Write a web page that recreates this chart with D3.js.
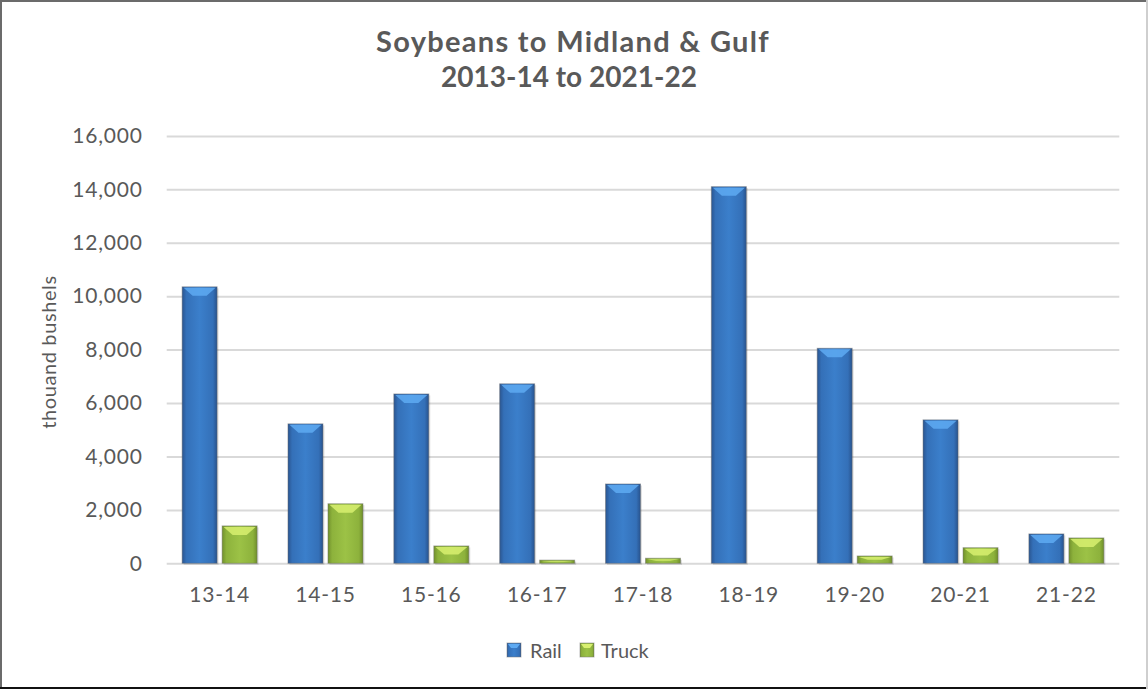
<!DOCTYPE html>
<html>
<head>
<meta charset="utf-8">
<script src="https://cdn.jsdelivr.net/npm/d3@7"></script>
<style>
  html, body { margin: 0; padding: 0; background: #fff; }
  svg { display: block; }
  text { font-family: "Lato", "Noto Sans", sans-serif; fill: #595959; }
</style>
</head>
<body>
<svg id="chart" width="1148" height="689"></svg>
<script>
// ---- data ----
const categories = ["13-14", "14-15", "15-16", "16-17", "17-18", "18-19", "19-20", "20-21", "21-22"];
const seriesNames = ["Rail", "Truck"];
const railValues  = [10350, 5220, 6340, 6720, 2970, 14100, 8050, 5370, 1100];
const truckValues = [1400, 2230, 650, 120, 190, 0, 275, 585, 950];
const yTicks = [0, 2000, 4000, 6000, 8000, 10000, 12000, 14000, 16000];
const titleLines = ["Soybeans to Midland & Gulf", "2013-14 to 2021-22"];
const yAxisTitle = "thouand bushels";

// ---- layout ----
const W = 1148, H = 689;
const plot = { left: 166.7, right: 1119.3, top: 135.9, bottom: 563.3 };
const svg = d3.select("#chart");

// frame
svg.append("rect").attr("x", 0).attr("y", 0).attr("width", W).attr("height", H).attr("fill", "#fff");
svg.append("line").attr("x1", 0).attr("x2", W).attr("y1", 1).attr("y2", 1).attr("stroke", "#6b6b6b").attr("stroke-width", 2);
svg.append("line").attr("x1", 1).attr("x2", 1).attr("y1", 0).attr("y2", H).attr("stroke", "#6b6b6b").attr("stroke-width", 2);
svg.append("line").attr("x1", 0).attr("x2", W).attr("y1", H - 1).attr("y2", H - 1).attr("stroke", "#111").attr("stroke-width", 2);
svg.append("line").attr("x1", W - 1).attr("x2", W - 1).attr("y1", 0).attr("y2", H).attr("stroke", "#cfcfcf").attr("stroke-width", 2);

// gradients
const defs = svg.append("defs");
function hGrad(id, stops) {
  const g = defs.append("linearGradient").attr("id", id).attr("x1", "0%").attr("x2", "100%").attr("y1", "0%").attr("y2", "0%");
  stops.forEach(s => g.append("stop").attr("offset", s[0]).attr("stop-color", s[1]));
}
hGrad("gRail", [["0%", "#2a5590"], ["12%", "#3470b8"], ["50%", "#3b7fcb"], ["88%", "#3470b8"], ["100%", "#28528c"]]);
hGrad("gTruck", [["0%", "#71902c"], ["12%", "#8db23c"], ["50%", "#9cc246"], ["88%", "#8db23c"], ["100%", "#6f8e2a"]]);
const fills = { Rail: "url(#gRail)", Truck: "url(#gTruck)" };
const caps = { Rail: "#5eaaf2", Truck: "#d8f070" };

// scales
const x0 = d3.scaleBand().domain(categories).range([plot.left, plot.right]).paddingInner(0).paddingOuter(0);
const outer = x0.bandwidth() * 0.1457;
const x1 = d3.scaleBand().domain(seriesNames).range([outer, x0.bandwidth() - outer]).paddingInner(0.125).paddingOuter(0);
const y = d3.scaleLinear().domain([0, 16000]).range([plot.bottom, plot.top]);

// gridlines
const grid = svg.append("g").attr("transform", `translate(${plot.left},0)`)
  .call(d3.axisLeft(y).tickValues(yTicks).tickSize(-(plot.right - plot.left)).tickFormat(""));
grid.select(".domain").remove();
grid.selectAll(".tick line").attr("stroke", "#d9d9d9").attr("stroke-width", 2);

// y axis labels
const yAx = svg.append("g").attr("transform", `translate(${plot.left},0)`)
  .call(d3.axisLeft(y).tickValues(yTicks).tickSize(0).tickPadding(24).tickFormat(d3.format(",")));
yAx.select(".domain").remove();
yAx.selectAll("text").style("font-size", "21px").style("fill", "#595959").attr("letter-spacing", "0.8px");

// x axis labels
const xAx = svg.append("g").attr("transform", `translate(0,${plot.bottom})`)
  .call(d3.axisBottom(x0).tickSize(0).tickPadding(24));
xAx.select(".domain").remove();
xAx.selectAll("text").style("font-size", "21px").style("fill", "#595959").attr("letter-spacing", "0.8px");

// bars
const rows = categories.map((c, i) => ({ cat: c, vals: [{ key: "Rail", v: railValues[i] }, { key: "Truck", v: truckValues[i] }] }));
const groups = svg.append("g").selectAll("g").data(rows).join("g")
  .attr("transform", d => `translate(${x0(d.cat)},0)`);
const bars = groups.selectAll("g.bar").data(d => d.vals.filter(v => v.v > 0)).join("g").attr("class", "bar");
bars.append("rect")
  .attr("x", d => x1(d.key) + 1.5).attr("y", d => y(d.v) + 1.5)
  .attr("width", x1.bandwidth()).attr("height", d => y(0) - y(d.v))
  .attr("fill", "#000").attr("opacity", 0.12);
bars.append("rect")
  .attr("x", d => x1(d.key)).attr("y", d => y(d.v))
  .attr("width", x1.bandwidth()).attr("height", d => y(0) - y(d.v))
  .attr("fill", d => fills[d.key]).attr("stroke", "#6a6a6a").attr("stroke-opacity", 0.45).attr("stroke-width", 1);
bars.append("path")
  .attr("d", d => {
    const xl = x1(d.key), w = x1.bandwidth(), yt = y(d.v);
    const h = Math.min(9, (y(0) - yt) / 2);
    const inset = w * 0.3;
    return `M${xl + 1.5},${yt + 1}L${xl + w - 1.5},${yt + 1}L${xl + w - inset},${yt + h}L${xl + inset},${yt + h}Z`;
  })
  .attr("fill", d => caps[d.key]).attr("opacity", 0.85);

// title
svg.append("text").attr("x", 573).attr("y", 52).attr("text-anchor", "middle").attr("letter-spacing", "1.3px")
  .style("font-size", "29px").style("font-weight", "bold").style("fill", "#595959").text(titleLines[0]);
svg.append("text").attr("x", 569).attr("y", 87).attr("text-anchor", "middle")
  .style("font-size", "28px").style("font-weight", "bold").style("fill", "#595959").text(titleLines[1]);

// y axis title
svg.append("text").attr("transform", "translate(56,352) rotate(-90)").attr("text-anchor", "middle").attr("letter-spacing", "0.6px")
  .style("font-size", "20px").style("fill", "#595959").text(yAxisTitle);

// legend
const legend = svg.append("g");
const legendItems = [{ key: "Rail", x: 507, tx: 530 }, { key: "Truck", x: 580, tx: 601 }];
legendItems.forEach(it => {
  legend.append("rect").attr("x", it.x).attr("y", 643).attr("width", 14).attr("height", 14)
    .attr("fill", fills[it.key]).attr("stroke", "#777").attr("stroke-opacity", 0.5);
  legend.append("path").attr("d", `M${it.x + 1},${644}L${it.x + 13},${644}L${it.x + 10},${648}L${it.x + 4},${648}Z`).attr("fill", caps[it.key]);
  legend.append("text").attr("x", it.tx).attr("y", 658).style("font-size", "20px").style("fill", "#595959").text(it.key);
});
</script>
</body>
</html>
